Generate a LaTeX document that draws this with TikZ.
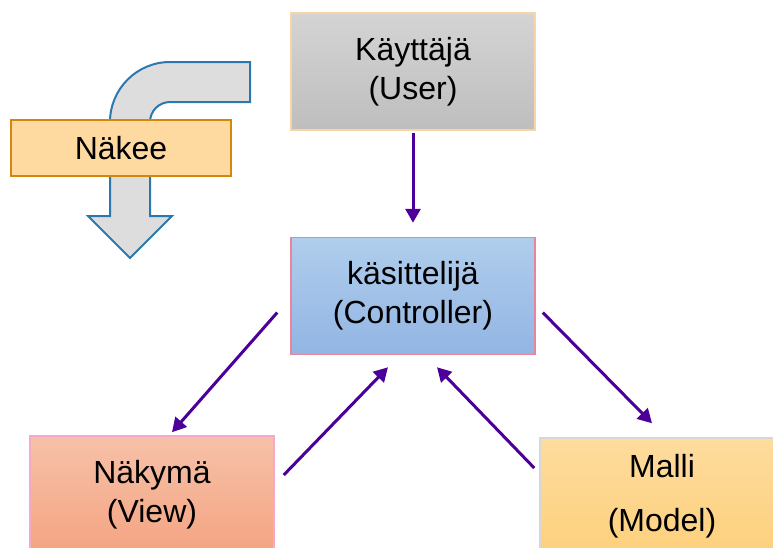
\documentclass[tikz,border=0pt]{standalone}
\usepackage{fontspec}
\setmainfont{Liberation Sans}
\usepackage{xcolor}
\definecolor{ugray}{RGB}{212,212,212}
\definecolor{dgray}{RGB}{190,190,190}
\definecolor{peach}{RGB}{246,214,168}
\definecolor{lblue}{RGB}{176,205,236}
\definecolor{dblue}{RGB}{146,181,227}
\definecolor{rosy}{RGB}{232,132,156}
\definecolor{lsalmon}{RGB}{246,193,169}
\definecolor{dsalmon}{RGB}{244,164,130}
\definecolor{pinkb}{RGB}{245,168,200}
\definecolor{lyel}{RGB}{254,220,158}
\definecolor{dyel}{RGB}{253,208,124}
\definecolor{lgray}{RGB}{215,215,215}
\definecolor{sand}{RGB}{254,217,160}
\definecolor{dorange}{RGB}{212,135,15}
\definecolor{bgray}{RGB}{221,221,221}
\definecolor{sblue}{RGB}{43,120,175}
\definecolor{dpurple}{RGB}{76,0,153}
\usetikzlibrary{arrows.meta,positioning,calc}

\begin{document}
\begin{tikzpicture}[
  x=1pt,y=-1pt,
  box/.style={rectangle,minimum width=244pt,minimum height=117pt,inner sep=0pt,align=center,font=\fontsize{32}{39}\selectfont,line width=1.5pt},
  ubox/.style={box,draw=peach,top color=ugray,bottom color=dgray},
  cbox/.style={box,draw=rosy,top color=lblue,bottom color=dblue},
  vbox/.style={box,draw=pinkb,top color=lsalmon,bottom color=dsalmon},
  mbox/.style={box,draw=lgray,top color=lyel,bottom color=dyel},
  nbox/.style={rectangle,draw=dorange,fill=sand,line width=1.8pt,minimum width=220pt,minimum height=56pt,inner sep=0pt,font=\fontsize{32}{39}\selectfont},
  bentarrow/.style={draw=sblue,fill=bgray,line width=2pt,line join=miter},
  arrow/.style={-{Triangle[length=14pt,width=15pt]},line width=3pt,dpurple}
]
  \clip (0,0) rectangle (773,547);

  % MVC boxes
  \node[ubox] (user) at (413,71.5) {Käyttäjä\\(User)};
  \node[cbox,below=106pt of user] (ctrl) {käsittelijä\\(Controller)};
  \node[vbox,below=80pt of ctrl,xshift=-261pt] (view) {Näkymä\\(View)};
  \node[mbox,below=82pt of ctrl,xshift=249pt,font=\fontsize{32}{54}\selectfont] (model) {Malli\\(Model)};

  % bent arrow with label
  \draw[bentarrow] (250,62) -- (170,62) .. controls (136.9,62) and (110,88.9) .. (110,122)
    -- (110,216) -- (88,216) -- (130,258) -- (172,216) -- (150,216) -- (150,122)
    .. controls (150,111) and (159,102) .. (170,102) -- (250,102) -- cycle;
  \node[nbox] (sees) at (121,148) {Näkee};

  % Arrows
  \draw[arrow,shorten <=2pt,shorten >=14pt] (user.south) -- (ctrl.north);
  \draw[arrow] ($(ctrl.west)+(-13,16.5)$) -- ($(view.north)+(20,-3)$);
  \draw[arrow] ($(view.east)+(9,-19.5)$) -- ($(ctrl.south)+(-25,12)$);
  \draw[arrow] ($(model.west)+(-5,-28.5)$) -- ($(ctrl.south)+(24,12)$);
  \draw[arrow] ($(ctrl.east)+(7,16.5)$) -- ($(model.north)+(-10,-14)$);
\end{tikzpicture}
\end{document}
